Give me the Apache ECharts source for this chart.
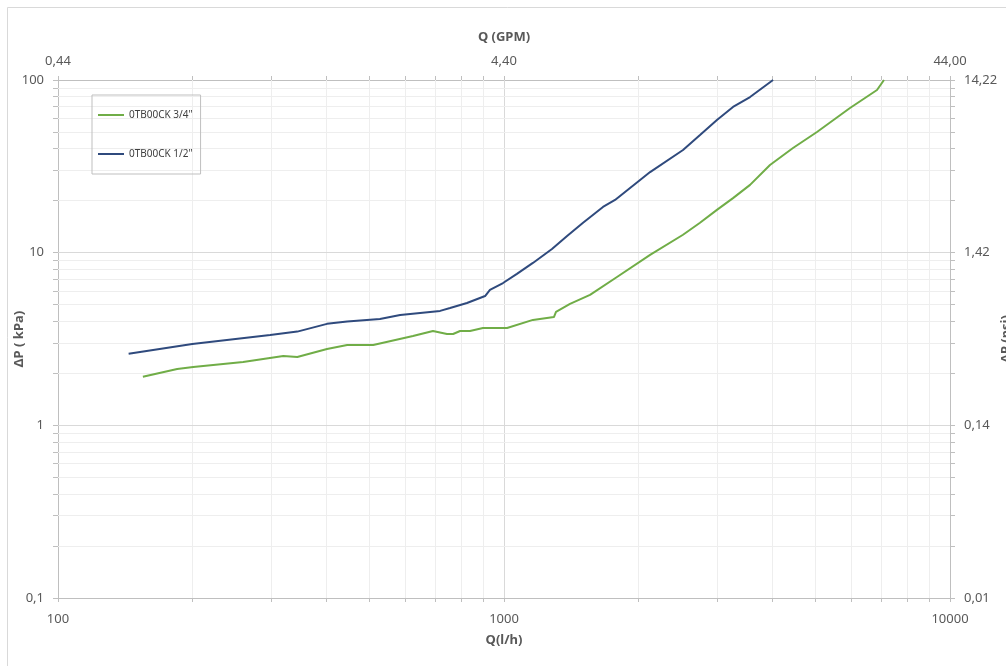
<!DOCTYPE html>
<html>
<head>
<meta charset="utf-8">
<title>ΔP – Q</title>
<script src="https://cdn.jsdelivr.net/npm/echarts@6/dist/echarts.min.js"></script>
<style>
  html, body { margin: 0; padding: 0; background: #ffffff; }
  #chart { width: 1006px; height: 666px; }
</style>
</head>
<body>
<div id="chart"></div>
<script>
// Flow (l/h) and pressure drop (kPa) for each valve size
const flowGreen = [155, 185, 201, 260, 320, 344, 401, 445, 509, 625, 693, 745, 769, 797, 839, 897, 1016, 1161, 1294, 1308, 1406, 1559, 1792, 2126, 2520, 2751, 3002, 3262, 3562, 3948, 4446, 5032, 5967, 6860, 7112];
const dpGreen   = [1.91, 2.12, 2.18, 2.33, 2.52, 2.49, 2.77, 2.92, 2.92, 3.29, 3.52, 3.38, 3.38, 3.52, 3.52, 3.66, 3.66, 4.08, 4.24, 4.54, 5.05, 5.69, 7.23, 9.70, 12.7, 14.9, 17.7, 20.7, 24.7, 32.2, 40.4, 50.0, 68.8, 87.5, 100];

const flowBlue = [144, 200, 299, 344, 401, 445, 527, 585, 719, 757, 826, 907, 930, 995, 1069, 1161, 1281, 1385, 1504, 1667, 1774, 2126, 2520, 2751, 3002, 3262, 3562, 4011];
const dpBlue   = [2.60, 2.96, 3.34, 3.49, 3.87, 3.99, 4.13, 4.36, 4.60, 4.78, 5.11, 5.61, 6.08, 6.67, 7.53, 8.72, 10.5, 12.5, 14.9, 18.4, 20.2, 29.3, 39.3, 48.0, 58.7, 69.8, 79.7, 100];

const seriesNames = ['0TB00CK 3/4"', '0TB00CK 1/2"'];
const seriesColors = ['#70ad47', '#2f4a7d'];

// Tick labels: decades of the primary axes and their secondary-unit equivalents
const flowDecades = [100, 1000, 10000];
const flowLabels  = ['100', '1000', '10000'];
const gpmLabels   = ['0,44', '4,40', '44,00'];
const dpDecades   = [0.1, 1, 10, 100];
const kpaLabels   = ['0,1', '1', '10', '100'];
const psiLabels   = ['0,01', '0,14', '1,42', '14,22'];

// Minor positions (2..9 within each decade)
const flowMinor = [200, 300, 400, 500, 600, 700, 800, 900, 2000, 3000, 4000, 5000, 6000, 7000, 8000, 9000];
const dpMinor = [0.2, 0.3, 0.4, 0.5, 0.6, 0.7, 0.8, 0.9, 2, 3, 4, 5, 6, 7, 8, 9, 20, 30, 40, 50, 60, 70, 80, 90];

const pair = (xs, ys) => xs.map((x, i) => [x, ys[i]]);
const decadeLabel = (decades, labels) => v => {
  const i = decades.findIndex(d => Math.abs(Math.log10(d) - Math.log10(v)) < 1e-6);
  return i >= 0 ? labels[i] : '';
};

const FONT = 'Noto Sans';
const labelStyle = { color: '#595959', fontSize: 13, fontFamily: FONT };
const nameStyle = { color: '#595959', fontSize: 13, fontWeight: 'bold', fontFamily: FONT };
const axisLine = { show: true, lineStyle: { color: '#bfbfbf', width: 1 } };

function xAxisDef(position, labels, name, gap, margin) {
  return {
    type: 'log', logBase: 10, min: 100, max: 10000, position,
    name, nameLocation: 'middle', nameGap: gap, nameTextStyle: nameStyle,
    axisLine,
    axisTick: { show: true, length: 4, lineStyle: { color: '#bfbfbf' }, customValues: flowDecades.concat(flowMinor) },
    axisLabel: Object.assign({ margin, customValues: flowDecades, formatter: decadeLabel(flowDecades, labels) }, labelStyle),
    splitLine: { show: false }, minorTick: { show: false }
  };
}
function yAxisDef(position, labels, name, gap) {
  return {
    type: 'log', logBase: 10, min: 0.1, max: 100, position,
    name, nameLocation: 'middle', nameGap: gap, nameRotate: 90, nameMoveOverlap: false,
    nameTextStyle: nameStyle,
    axisLine,
    axisTick: { show: true, length: 5, lineStyle: { color: '#bfbfbf' }, customValues: dpDecades.concat(dpMinor) },
    axisLabel: Object.assign({ margin: 14, customValues: dpDecades, formatter: decadeLabel(dpDecades, labels) }, labelStyle),
    splitLine: { show: false }, minorTick: { show: false }
  };
}

// Grid lines drawn through the axes' own scales
const majorColor = '#d9d9d9', minorColor = '#eeeeee';
const gridLines = []
  .concat(flowMinor.map(v => ({ xAxis: v, lineStyle: { color: minorColor } })))
  .concat([{ xAxis: 1000, lineStyle: { color: majorColor } }])
  .concat(dpMinor.map(v => ({ yAxis: v, lineStyle: { color: minorColor } })))
  .concat([1, 10].map(v => ({ yAxis: v, lineStyle: { color: majorColor } })));

const chart = echarts.init(document.getElementById('chart'), null, { renderer: 'canvas' });
chart.setOption({
  animation: false,
  backgroundColor: '#ffffff',
  grid: { left: 58, right: 56, top: 80, bottom: 68, containLabel: false, outerBoundsMode: 'none' },
  graphic: [{
    type: 'rect', silent: true, z: -10,
    shape: { x: 7.5, y: 7.5, width: 1030, height: 700 },
    style: { fill: 'none', stroke: '#d9d9d9', lineWidth: 1 }
  }],
  legend: {
    orient: 'vertical', left: 92, top: 95,
    padding: [15, 8, 15, 6], itemGap: 29,
    itemWidth: 26, itemHeight: 2, icon: 'rect',
    borderColor: '#bfbfbf', borderWidth: 1,
    textStyle: { color: '#404040', fontSize: 10, fontFamily: FONT },
    data: seriesNames
  },
  xAxis: [
    xAxisDef('bottom', flowLabels, 'Q(l/h)', 36, 15),
    xAxisDef('top', gpmLabels, 'Q (GPM)', 36, 12)
  ],
  yAxis: [
    yAxisDef('left', kpaLabels, 'ΔP ( kPa)', 32),
    yAxisDef('right', psiLabels, 'ΔP (psi)', 50)
  ],
  series: [
    {
      type: 'line', name: '__grid', data: [], silent: true, z: 1,
      xAxisIndex: 0, yAxisIndex: 0,
      markLine: {
        z: 1, silent: true, symbol: 'none', animation: false,
        label: { show: false },
        lineStyle: { type: 'solid', width: 1 },
        data: gridLines
      }
    },
    {
      type: 'line', name: seriesNames[0], data: pair(flowGreen, dpGreen),
      xAxisIndex: 0, yAxisIndex: 0, z: 3,
      showSymbol: false, symbol: 'none', smooth: false,
      lineStyle: { color: seriesColors[0], width: 2 }, itemStyle: { color: seriesColors[0] }
    },
    {
      type: 'line', name: seriesNames[1], data: pair(flowBlue, dpBlue),
      xAxisIndex: 0, yAxisIndex: 0, z: 3,
      showSymbol: false, symbol: 'none', smooth: false,
      lineStyle: { color: seriesColors[1], width: 2 }, itemStyle: { color: seriesColors[1] }
    }
  ]
});
</script>
</body>
</html>
